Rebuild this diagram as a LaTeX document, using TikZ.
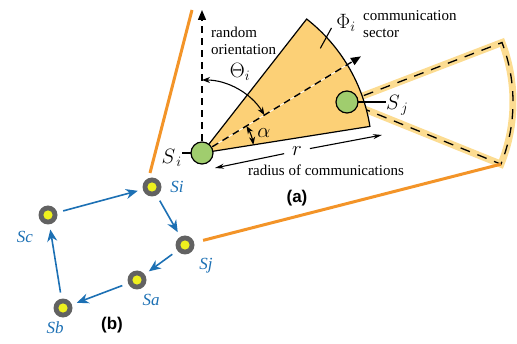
\documentclass[tikz,border=0pt]{standalone}
\usepackage{fontspec}
\setmainfont{Liberation Serif}
\newfontfamily\bodyfont{Liberation Serif}
\newfontfamily\tagfont{Liberation Sans}
\usepackage{tikz}
\usetikzlibrary{
    arrows.meta,
    calc
}
\definecolor{sectorfill}{RGB}{252,208,118}
\definecolor{bandfill}{RGB}{252,220,145}
\definecolor{linkorange}{RGB}{243,148,40}
\definecolor{sensorgreen}{RGB}{160,205,110}
\definecolor{hopblue}{RGB}{28,112,180}
\definecolor{hopgray}{RGB}{98,98,98}
\definecolor{hopyellow}{RGB}{238,240,30}
\tikzstyle{sensor}=[
    circle,
    minimum size=22pt,
    inner sep=0pt,
    draw=black,
    fill=sensorgreen,
    line width=1.2pt
]
\tikzstyle{hop}=[
    circle,
    minimum size=19pt,
    inner sep=0pt,
    fill=hopgray,
    path picture={\fill[hopyellow] (path picture bounding box.center) circle (4.6pt);}
]
\tikzstyle{hoparrow}=[draw=hopblue,line width=1.6pt,-{Stealth[length=12pt,width=10pt]},shorten >=5pt,shorten <=6pt]
\tikzstyle{hoplabel}=[text=hopblue,inner sep=0pt,font=\fontsize{17}{17}\selectfont\bodyfont\itshape]
\tikzstyle{link}=[draw=linkorange,line width=3pt]
\tikzstyle{guide}=[line width=1.4pt,dash pattern=on 7pt off 5pt,-{Triangle[length=10pt,width=8pt]}]
\tikzstyle{angle}=[line width=1.1pt,{Stealth[length=8pt,width=6pt]}-{Stealth[length=8pt,width=6pt]}]
\tikzstyle{span}=[line width=1.1pt,-{Stealth[length=9pt,width=5pt]}]
\tikzstyle{txt}=[inner sep=0pt,font=\fontsize{15}{17}\selectfont\bodyfont]
\tikzstyle{sym}=[inner sep=0pt,font=\fontsize{21}{21}\selectfont]
\tikzstyle{tag}=[inner sep=0pt,font=\fontsize{17}{17}\selectfont\tagfont\bfseries]

\begin{document}
\begin{tikzpicture}[x=1pt,y=1pt]
\useasboundingbox (0,0) rectangle (517,343);
\coordinate (sipos) at (202,190);
\coordinate (sjpos) at (347,241);

\draw[draw=bandfill,line width=7pt] (sjpos) -- ++(21:166) arc[start angle=21,end angle=-22,radius=166] -- cycle;
\draw[line width=1.3pt,dash pattern=on 10pt off 8pt] (sjpos) -- ++(21:166) arc[start angle=21,end angle=-22,radius=166] -- cycle;
\coordinate (bandcorner) at ($(sjpos)+(-22:166)$);

\coordinate (viewtop) at (192,333);
\coordinate (viewfoot) at (150,170);
\draw[link] (viewfoot) -- (viewtop);

\filldraw[fill=sectorfill,draw=black,line width=1.2pt] (sipos) -- ++(9:170) arc[start angle=9,end angle=52,radius=170] -- cycle;

\coordinate (uptip) at (202,333);
\coordinate (axistip) at ($(sipos)+(31.3:186)$);
\draw[guide] (sipos) -- (uptip);
\draw[white,line width=0.8pt] (sipos) -- (axistip);
\draw[guide] (sipos) -- (axistip);
\draw[angle] ($(sipos)+(90:73)$) arc[start angle=90,end angle=31.3,radius=73];
\draw[angle] ($(sipos)+(31.3:52)$) arc[start angle=31.3,end angle=9,radius=52];

\node[sym] (theta) at (240,271) {$\Theta_i$};
\node[sym] (alpha) at (264,210) {$\alpha$};
\node[sym] (phi) at (346,320) {$\Phi_i$};
\draw[line width=1.1pt] ($(sipos)+(41.5:158)$) -- ($(sipos)+(44:180)$);
\node[txt,anchor=west,align=left] (sectortxt) at (363,319) {communication\\sector};
\node[txt,anchor=west,align=left] (orienttxt) at (211,302) {random\\orientation};

\node[sym] (rlabel) at (297,192) {$r$};
\coordinate (rtip) at (382,208);
\coordinate (rback) at (215,175);
\draw[span,shorten <=8pt] (rlabel) -- (rtip);
\draw[span,shorten <=8pt] (rlabel) -- (rback);
\node[txt] (radiustxt) at (326,173) {radius of communications};

\node[sym,anchor=east] (silabel) at (182,185) {$S_{\,i}$};
\node[sym,anchor=west] (sjlabel) at (386,238) {$S_{\,j}$};
\draw[line width=1.1pt] (silabel.east) ++(0,5) -- (sipos);
\draw[line width=1.1pt] (sjpos) -- ($(sjlabel.west)+(0,3)$);
\node[sensor] (si) at (sipos) {};
\node[sensor] (sj) at (sjpos) {};

\node[tag] (taga) at (297,145) {(a)};

\node[hop] (sib) at (152,156) {};
\node[hop] (sjb) at (185,98) {};
\node[hop] (sab) at (137,63) {};
\node[hop] (sbb) at (63,35) {};
\node[hop] (scb) at (48,128) {};
\node[hoplabel] (sibl) at (177,156) {Si};
\node[hoplabel] (sjbl) at (206,77) {Sj};
\node[hoplabel] (sabl) at (151,43) {Sa};
\node[hoplabel] (sbbl) at (55,15) {Sb};
\node[hoplabel] (scbl) at (25,106) {Sc};
\node[tag] (tagb) at (112,18) {(b)};

\draw[link,shorten <=9pt] (sjb) -- (bandcorner);
\draw[hoparrow] (scb) -- (sib);
\draw[hoparrow] (sib) -- (sjb);
\draw[hoparrow] (sjb) -- (sab);
\draw[hoparrow] (sab) -- (sbb);
\draw[hoparrow] (sbb) -- (scb);
\end{tikzpicture}
\end{document}
